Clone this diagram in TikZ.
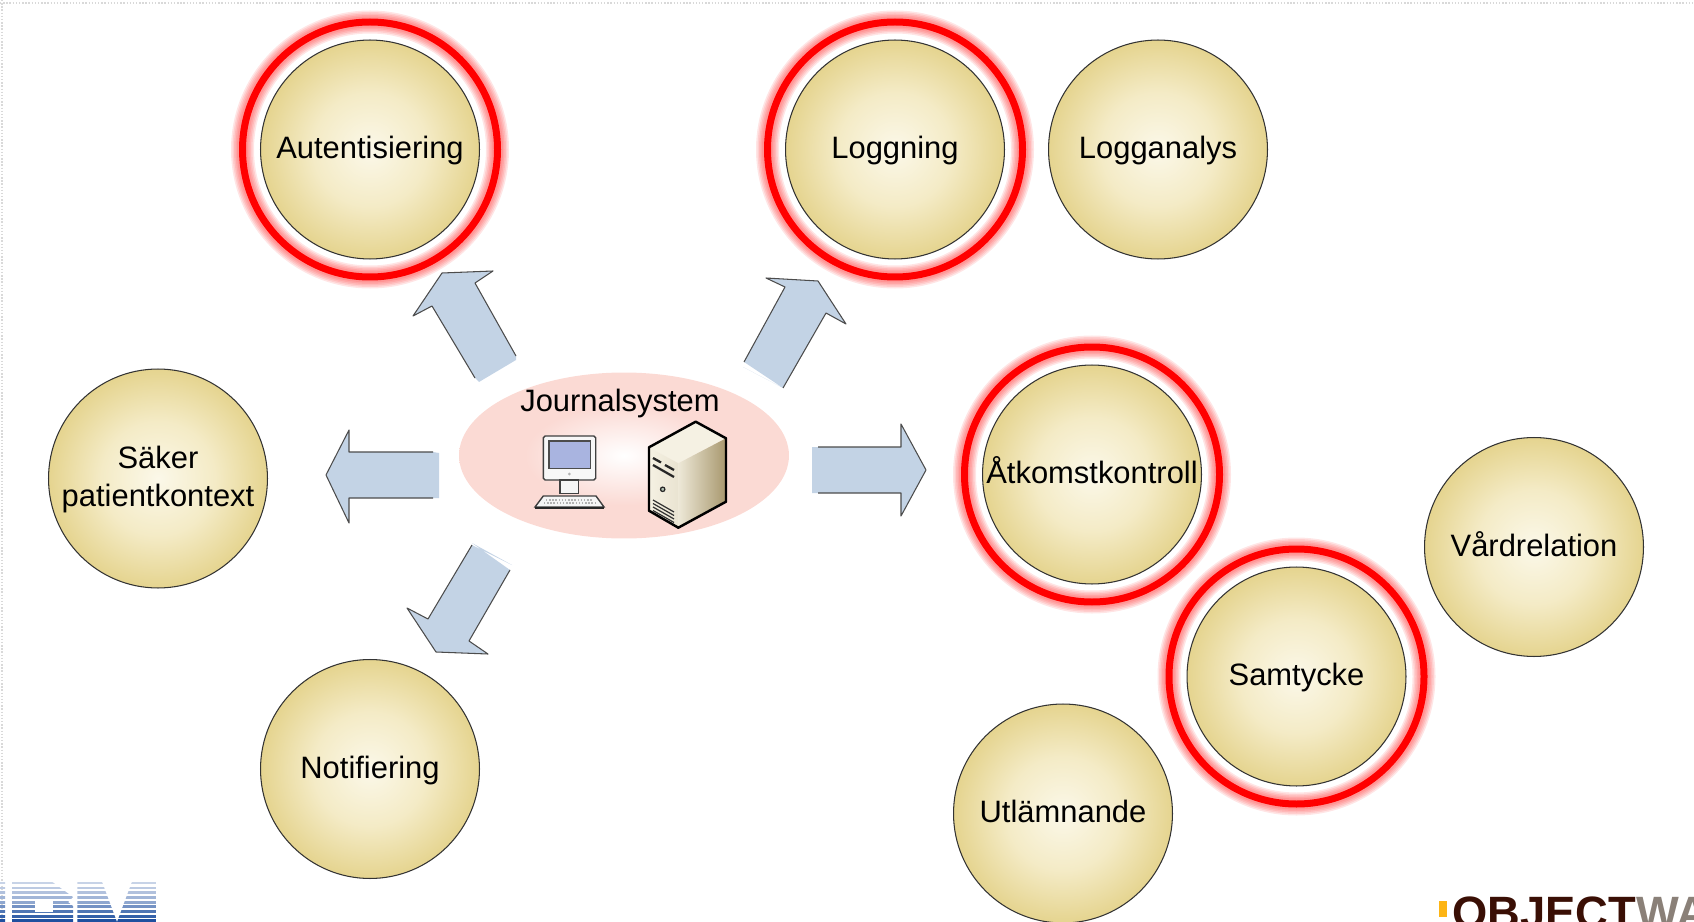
\documentclass[tikz,border=0pt]{standalone}
\usepackage{fontspec}
\setmainfont{Liberation Sans}
\usepackage{tikz}
\usetikzlibrary{shapes.geometric}
\definecolor{discin}{HTML}{FBF8E9}
\definecolor{discmid}{HTML}{F4EBC6}
\definecolor{discout}{HTML}{E5D48F}
\definecolor{ovalin}{HTML}{FFFFFF}
\definecolor{ovalout}{HTML}{FBDAD4}
\definecolor{arrowblue}{HTML}{C3D3E5}
\definecolor{ibmblue}{HTML}{1F4F9F}
\definecolor{objbrown}{HTML}{3A0F05}
\definecolor{objgrey}{HTML}{8A8078}
\definecolor{objyellow}{HTML}{FDB515}
\definecolor{screenblue}{HTML}{A9B4E0}
\definecolor{caselight}{HTML}{F5F1E3}
\definecolor{casedark}{HTML}{A8986E}
\pgfdeclareradialshading{discshade}{\pgfpointorigin}{color(0bp)=(discin); color(13bp)=(discmid); color(25bp)=(discout); color(50bp)=(discout)}
\pgfdeclareradialshading{ovalshade}{\pgfpointorigin}{color(0bp)=(ovalin); color(15bp)=(ovalout); color(25bp)=(ovalout); color(50bp)=(ovalout)}
\tikzset{
  disc/.style={circle, draw=black!80, line width=0.6pt, shade, shading=discshade, minimum size=4.38cm, inner sep=0pt, align=center, text height=14pt, text depth=3.4pt, font=\fontsize{17.6}{21.5}\selectfont},
  oval/.style={ellipse, shade, shading=ovalshade, minimum width=6.6cm, minimum height=3.32cm, inner sep=0pt},
  label/.style={text height=14pt, text depth=3.4pt, font=\fontsize{17.6}{21.5}\selectfont, inner sep=0pt},
  ringline/.style={draw=red, line width=1.4mm},
  shaftline/.style={draw=black!70, line width=0.6pt, line join=round},
  iconline/.style={draw=black, line width=0.8pt, line join=round},
}
\newcommand{\disk}[4]{\node[disc] (#1) at (#2,#3) {#4};}
\newcommand{\ringdisk}[4]{
  \foreach \w in {23,20,17,14,11} {\draw[red, opacity=0.1, line width=\w*0.02cm] (#2,#3) circle[radius=127.5];}
  \draw[ringline] (#2,#3) circle[radius=127.5];
  \node[disc] (#1) at (#2,#3) {#4};}
\newcommand{\blockarrow}[2]{\fill[arrowblue] #2 -- #1 -- cycle; \draw[shaftline] #2;}

\begin{document}
\begin{tikzpicture}[x=0.02cm, y=-0.02cm]
        \useasboundingbox (0,0) rectangle (1694,922);
        % slide edge
        \draw[black!15, densely dotted, line width=0.8pt] (0,3) -- (1694,3);
        \draw[black!15, densely dotted, line width=0.8pt] (2,0) -- (2,922);
        % top row
        \ringdisk{auth}{370}{149.5}{Autentisiering}
        \ringdisk{logg}{895}{149.5}{Loggning}
        \disk{logganalys}{1158}{149.5}{Logganalys}
        % left side
        \node[disc, text height=35.5pt] (saker) at (158,478.5) {Säker\\patientkontext};
        \disk{notif}{370}{769}{Notifiering}
        % right side
        \ringdisk{atkomst}{1092}{474.5}{Åtkomstkontroll}
        \disk{vard}{1534}{547}{Vårdrelation}
        \ringdisk{samtycke}{1296.5}{676.5}{Samtycke}
        \disk{utl}{1063}{813.5}{Utlämnande}
        % centre
        \node[oval] (journal) at (624,455.5) {};
        \node[label] (journaltext) at (620,402.4) {Journalsystem};
        % block arrows
        \blockarrow{(516,360) -- (479,382)}{(475,378) -- (432,306) -- (413,316) -- (442,273) -- (493,271) -- (475,283) -- (516,356)}
        \blockarrow{(743,367) -- (783,388)}{(744,362) -- (785,287) -- (766,278) -- (818,281) -- (846,324) -- (826,313) -- (783,388)}
        \blockarrow{(439,453) -- (439,498)}{(433,498) -- (349,498) -- (349,523) -- (326,475) -- (349,430) -- (349,452) -- (433,452)}
        \blockarrow{(812,493) -- (812,447)}{(818,447) -- (901,447) -- (901,424) -- (926,470) -- (901,516) -- (901,493) -- (818,493)}
        \blockarrow{(472,543) -- (512,565)}{(472,545) -- (428,619) -- (407,608) -- (436,652) -- (488,654) -- (469,641) -- (510,570)}
        % computer
        \draw[draw=black!75, line width=0.8pt, fill=black!3, rounded corners=1pt] (543.3,436) rectangle (595.7,480);
        \draw[draw=black!70, line width=0.6pt, fill=screenblue] (549,441) rectangle (590.7,468.3);
        \fill[black!30] (569.3,474) circle[radius=1.5];
        \draw[draw=black!75, line width=0.8pt, fill=black!4] (560,480) rectangle (578.3,493.3);
        \draw[draw=black!75, line width=0.8pt, fill=black!4] (543.3,496) -- (596,496) -- (604,507) -- (535,507) -- cycle;
        \draw[black!85, line width=1.1pt] (535,508.3) -- (604,508.3);
        \draw[black!30, densely dotted, line width=0.8pt] (546,500) -- (593,500);
        \draw[black!30, densely dotted, line width=0.8pt] (544,503) -- (595,503);
        % server
        \fill[caselight] (649,447.3) -- (695.7,421.7) -- (726,438.3) -- (678.3,463.3) -- cycle;
        \shade[left color=caselight, right color=caselight!85!casedark] (649,447.3) -- (678.3,463.3) -- (678.3,527.7) -- (649,510.7) -- cycle;
        \shade[left color=caselight!90!casedark, right color=casedark] (678.3,463.3) -- (726,438.3) -- (726,501.7) -- (678.3,527.7) -- cycle;
        \draw[iconline, line width=1.4pt] (649,447.3) -- (695.7,421.7) -- (726,438.3) -- (726,501.7) -- (678.3,527.7) -- (649,510.7) -- cycle;
        \draw[black!85, line width=1.3pt] (653,458) -- (661,462.5);
        \draw[black!85, line width=1.3pt] (665,465) -- (674,470);
        \draw[black!85, line width=1.3pt] (653,465) -- (674,477);
        \draw[black!85, fill=green!20!black!30, line width=0.7pt] (662.7,489.3) circle[radius=2.2];
        \foreach \i in {0,1,2,3} {\draw[black!80, line width=0.7pt] (653,500+\i*3.5) -- (674,512+\i*3.5);}
        % IBM logo
        \begin{scope}
          \clip (0,881.7) rectangle (5,922)
                (12,881.7) -- (52,881.7) -- (73,897) -- (68,902) -- (73,906) -- (73,922) -- (12,922) -- cycle
                (77.3,881.7) -- (102,881.7) -- (117,922) -- (132,881.7) -- (156,881.7) -- (156,922) -- (77.3,922) -- cycle;
          \foreach \i/\pct in {0/25,1/30,2/35,3/42,4/50,5/62,6/78,7/90,8/100} {
            \fill[ibmblue!\pct!white] (0,882+\i*4.65) rectangle (156,882+\i*4.65+2.4+\i*0.15);}
        \end{scope}
        \fill[white] (35,900) rectangle (53,911.7);
        % Objectware logo
        \fill[objyellow] (1439.3,901) rectangle (1446.7,916.7);
        \begin{scope}
          \clip (1420,870) rectangle (1694,922);
          \node[anchor=base west, inner sep=0pt, font=\fontsize{25.8}{26}\selectfont\bfseries, text=objbrown] (objectware) at (1452,928.6) {OBJECT\textcolor{objgrey}{WA}};
        \end{scope}
    \end{tikzpicture}
\end{document}
